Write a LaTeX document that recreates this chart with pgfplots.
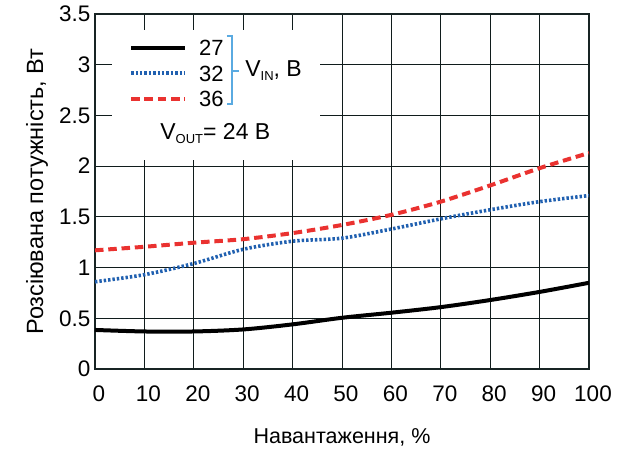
\documentclass[border=0pt]{standalone}
\usepackage{fontspec}
\setmainfont{Liberation Sans}
\usepackage{pgfplots}
\pgfplotsset{compat=1.18}
\definecolor{cred}{RGB}{234,50,48}
\definecolor{cblue}{RGB}{32,96,176}
\definecolor{cbrack}{RGB}{90,170,225}
\definecolor{gridc}{RGB}{16,28,28}
\definecolor{axc}{RGB}{24,36,36}
\newcommand{\sub}[1]{\raisebox{-4pt}{\fontsize{13}{13}\selectfont #1}}
\begin{document}
\begin{tikzpicture}[x=1pt,y=1pt]
\useasboundingbox (-95,-83) rectangle (529,369);
\begin{axis}[
  at={(0,0)}, anchor=south west,
  scale only axis, width=494pt, height=355pt,
  xmin=0, xmax=100, ymin=0, ymax=3.5,
  xtick={0,10,...,100}, ytick={0,0.5,...,3.5},
  grid=major,
  major grid style={line width=1pt, color=gridc},
  axis line style={line width=2pt, color=axc},
  major tick length=0pt, tick style={draw=none},
  ticklabel style={font=\fontsize{22.5}{22.5}\selectfont},
  /pgf/number format/assume math mode=true,
  xticklabel style={yshift=-13pt, xshift=4pt},
  yticklabel style={xshift=-1pt},
  xlabel={Навантаження, \%},
  ylabel={Розсіювана потужність, Вт},
  xlabel style={font=\fontsize{21.5}{21.5}\selectfont, at={([yshift=-68pt]axis description cs:0.5,0)}, anchor=center},
  ylabel style={font=\fontsize{23.5}{23.5}\selectfont, at={([xshift=-58pt]axis description cs:0,0.5)}, anchor=center},
  legend image code/.code={\draw[#1] (0pt,0pt) -- (54pt,0pt); \path (66pt,0pt);},
  legend cell align=left,
  legend style={at={(axis cs:6.88,3.25)}, anchor=north west, draw=none, fill=none,
    inner sep=0pt, font=\fontsize{22}{22}\selectfont,
    nodes={inner sep=0pt, text height=16pt, text depth=0pt},
    row sep=9.5pt},
]
\fill[white] (axis cs:3.4,2.06) rectangle (axis cs:45.5,3.34);
\addplot[black, line width=4pt, smooth] coordinates {
 (0,0.385) (10,0.37) (20,0.37) (30,0.39) (40,0.44) (50,0.505)
 (60,0.555) (70,0.61) (80,0.68) (90,0.76) (100,0.85)};
\addlegendentry{27}
\addplot[cblue, line width=3.6pt, dash pattern=on 2.4pt off 2pt, smooth] coordinates {
 (0,0.86) (10,0.93) (20,1.04) (30,1.18) (40,1.26) (50,1.29)
 (60,1.38) (70,1.48) (80,1.57) (90,1.65) (100,1.71)};
\addlegendentry{32}
\addplot[cred, line width=4pt, dash pattern=on 8.5pt off 4.8pt, smooth] coordinates {
 (0,1.17) (10,1.205) (20,1.245) (30,1.28) (40,1.34) (50,1.42)
 (60,1.52) (70,1.65) (80,1.81) (90,1.98) (100,2.13)};
\addlegendentry{36}
\draw[cbrack, line width=1.7pt] (axis cs:26.7,3.286) -- (axis cs:27.67,3.286) -- (axis cs:27.67,2.613) -- (axis cs:26.7,2.613);
\draw[cbrack, line width=1.7pt] (axis cs:27.67,2.94) -- (axis cs:29.15,2.94);
\node[anchor=west, font=\fontsize{23}{23}\selectfont, inner sep=0pt] at (axis cs:30.4,2.94) {V\sub{IN}, В};
\node[anchor=west, font=\fontsize{23}{23}\selectfont, inner sep=0pt] at (axis cs:13.2,2.317) {V\sub{OUT}= 24 В};
\end{axis}
\end{tikzpicture}
\end{document}
